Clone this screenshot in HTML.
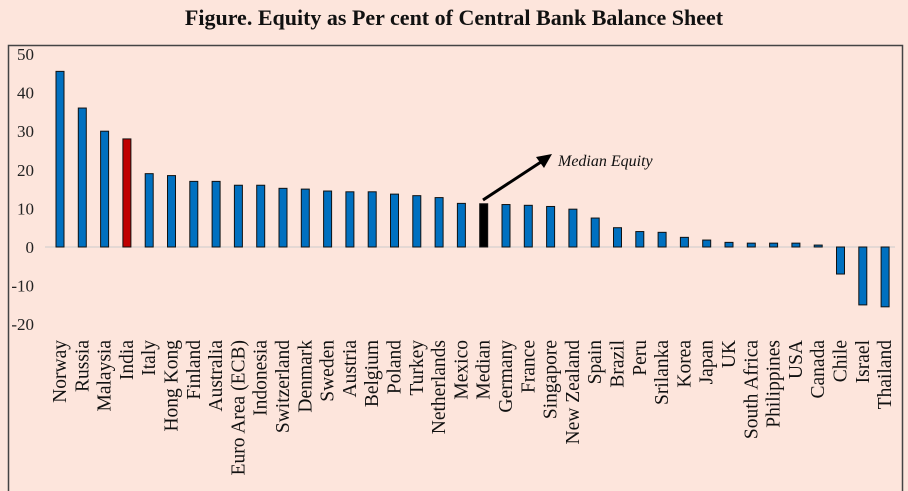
<!DOCTYPE html>
<html><head><meta charset="utf-8"><style>
body{margin:0;background:#fde5dc;}
svg{display:block;font-family:"Liberation Serif",serif;}
</style></head><body>
<svg width="908" height="491">
<rect x="0" y="0" width="908" height="491" fill="#fde5dc"/>
<text x="454" y="25" text-anchor="middle" font-size="22" font-weight="bold" fill="#111">Figure. Equity as Per cent of Central Bank Balance Sheet</text>
<rect x="8.5" y="45.5" width="894" height="450" fill="none" stroke="#444" stroke-width="1.5"/>
<g id="yaxis"></g><g id="bars"></g><g id="xlabels"></g>
<g>
<line x1="483" y1="200" x2="544" y2="160" stroke="#000" stroke-width="3"/>
<polygon points="552,154 536,157 544,168" fill="#000"/>
<text x="558" y="166" font-size="16" font-style="italic" fill="#111">Median Equity</text>
</g>
</svg>
<script>
const categories=["Norway","Russia","Malaysia","India","Italy","Hong Kong","Finland","Australia","Euro Area (ECB)","Indonesia","Switzerland","Denmark","Sweden","Austria","Belgium","Poland","Turkey","Netherlands","Mexico","Median","Germany","France","Singapore","New Zealand","Spain","Brazil","Peru","Srilanka","Korea","Japan","UK","South Africa","Philippines","USA","Canada","Chile","Israel","Thailand"];
const values=[45.5,36,30,28,19,18.5,17,17,16,16,15.2,15,14.5,14.3,14.3,13.7,13.3,12.8,11.3,11.2,11,10.8,10.5,9.8,7.5,5,4,3.8,2.5,1.8,1.2,1,1,1,0.5,-7,-15,-15.5];
const yTicks=[50,40,30,20,10,0,-10,-20];
const NS="http://www.w3.org/2000/svg";
const y=v=>247-v*3.86;
const x=i=>60+i*22.3;
const ya=document.getElementById('yaxis'),bg=document.getElementById('bars'),xl=document.getElementById('xlabels');
yTicks.forEach(t=>{const e=document.createElementNS(NS,'text');


e.setAttribute('x',34);e.setAttribute('y',y(t)+6);e.setAttribute('text-anchor','end');e.setAttribute('font-size','17');e.setAttribute('fill','#222');e.textContent=t;ya.appendChild(e);});
const z=document.createElementNS(NS,'line');


z.setAttribute('x1',45);z.setAttribute('x2',895);z.setAttribute('y1',247);z.setAttribute('y2',247);z.setAttribute('stroke','#ccc');ya.appendChild(z);
categories.forEach((c,i)=>{const v=values[i];const r=document.createElementNS(NS,'rect');


const top=Math.min(y(v),y(0));r.setAttribute('x',x(i)-4);r.setAttribute('y',top);r.setAttribute('width',8);r.setAttribute('height',Math.max(Math.abs(y(v)-y(0)),1));
r.setAttribute('fill',c==='India'?'#c00000':c==='Median'?'#000':'#0070c0');r.setAttribute('stroke','#111');r.setAttribute('stroke-width','1');bg.appendChild(r);
const t=document.createElementNS(NS,'text');


t.setAttribute('transform','translate('+(x(i)+6)+',340) rotate(-90)');t.setAttribute('text-anchor','end');t.setAttribute('font-size','19.5');t.setAttribute('fill','#111');t.textContent=c;xl.appendChild(t);});
</script>
</body></html>
